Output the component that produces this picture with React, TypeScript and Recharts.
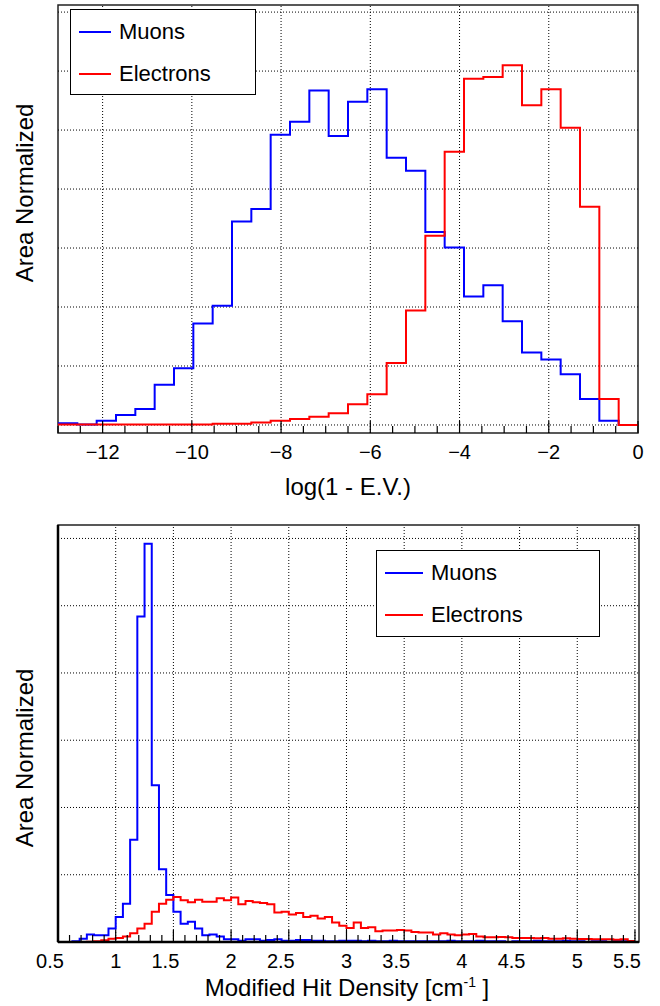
import { LineChart, Line, XAxis, YAxis, ReferenceLine, ReferenceArea } from 'recharts';

// log(1 - E.V.) histogram: 30 bins from -13 to 0
const EV_MIN = -13;
const EV_MAX = 0;
const EV_BIN = 13 / 30;
const evMuons = [0.03, 0.01, 0.07, 0.17, 0.27, 0.68, 0.96, 1.72, 2.02, 3.45, 3.66, 4.92, 5.14, 5.67, 4.9, 5.48, 5.69, 4.53, 4.31, 3.27, 3.01, 2.18, 2.37, 1.76, 1.23, 1.11, 0.86, 0.44, 0.07, 0.0];
const evElectrons = [0.01, 0.01, 0.01, 0.01, 0.01, 0.01, 0.01, 0.01, 0.02, 0.02, 0.04, 0.07, 0.1, 0.14, 0.2, 0.35, 0.52, 1.05, 1.94, 3.21, 4.63, 5.87, 5.9, 6.1, 5.42, 5.69, 5.04, 3.7, 0.44, 0.0];
const evMajorTicks = [-12, -10, -8, -6, -4, -2, 0];
const evGridY = [0, 1, 2, 3, 4, 5, 6, 7];
const EV_Y_DOMAIN: [number, number] = [-0.136, 7.12];

// Modified hit density histogram: 80 bins from 0.5 to 5.5
const HD_MIN = 0.5;
const HD_MAX = 5.535;
const HD_BIN = 0.0625;
const hdMuons = [
  0.0, 0.0, 0.01, 0.05, 0.11, 0.1, 0.1, 0.2, 0.37, 0.57,
  1.52, 4.84, 5.92, 2.33, 1.08, 0.7, 0.45, 0.27, 0.3, 0.2,
  0.1, 0.11, 0.08, 0.04, 0.04, 0.02, 0.04, 0.04, 0.02, 0.03,
  0.04, 0.02, 0.02, 0.03, 0.03, 0.02, 0.02, 0.01, 0.01, 0.02,
  0.02, 0.02, 0.01, 0.02, 0.01, 0.01, 0.02, 0.01, 0.01, 0.01,
  0.01, 0.01, 0.01, 0.01, 0.02, 0.01, 0.01, 0.01, 0.02, 0.01,
  0.01, 0.01, 0.0, 0.01, 0.01, 0.01, 0.02, 0.01, 0.01, 0.01,
  0.02, 0.01, 0.01, 0.0, 0.01, 0.01, 0.0, 0.01, 0.01, 0.0,
];
const hdElectrons = [
  0.0, 0.0, 0.0, 0.0, 0.005, 0.01, 0.025, 0.05, 0.06, 0.08,
  0.13, 0.2, 0.27, 0.45, 0.57, 0.63, 0.67, 0.62, 0.59, 0.63,
  0.6, 0.6, 0.65, 0.62, 0.66, 0.56, 0.61, 0.59, 0.58, 0.56,
  0.44, 0.45, 0.41, 0.43, 0.37, 0.39, 0.35, 0.37, 0.29, 0.24,
  0.21, 0.29, 0.21, 0.22, 0.16, 0.17, 0.17, 0.18, 0.17, 0.15,
  0.14, 0.14, 0.11, 0.13, 0.11, 0.1, 0.11, 0.12, 0.08, 0.07,
  0.07, 0.075, 0.07, 0.06, 0.06, 0.06, 0.055, 0.06, 0.05, 0.05,
  0.055, 0.05, 0.045, 0.045, 0.04, 0.04, 0.04, 0.035, 0.04, 0.015,
];
const hdMajorTicks = [0.5, 1, 1.5, 2, 2.5, 3, 3.5, 4, 4.5, 5, 5.5];
const hdGridY = [1, 2, 3, 4, 5, 6];
const HD_Y_DOMAIN: [number, number] = [0, 6.2];

const FONT = '"Liberation Sans", Arial, Helvetica, sans-serif';
const BLUE = '#0000ff';
const RED = '#ff0000';

function toSteps(x0: number, w: number, mu: number[], el: number[]) {
  const rows = mu.map((m, i) => ({ x: x0 + i * w, mu: m, el: el[i] }));
  rows.push({ x: x0 + mu.length * w, mu: mu[mu.length - 1], el: el[el.length - 1] });
  return rows;
}

function range(start: number, stop: number, step: number) {
  const out: number[] = [];
  for (let v = start; v <= stop + 1e-9; v += step) out.push(Math.round(v * 1000) / 1000);
  return out;
}

const isMajor = (majors: number[], v: number) => majors.some((m) => Math.abs(m - v) < 1e-6);

function XTick(props: any) {
  const { x, y, payload, majors, fmt, shift } = props;
  const major = isMajor(majors, payload.value);
  const dx = shift ? shift(payload.value) : 0;
  return (
    <g>
      <line x1={x} x2={x} y1={y} y2={y - (major ? 12 : 7)} stroke="#000" strokeWidth={1.2} />
      {major && (
        <text x={x + dx} y={y + 26} textAnchor="middle" fontSize={20} fontFamily={FONT} fill="#000">
          {fmt(payload.value)}
        </text>
      )}
    </g>
  );
}

function YTick(props: any) {
  const { x, y, payload, majors } = props;
  const major = isMajor(majors, payload.value);
  return <line x1={x} x2={x + (major ? 12 : 7)} y1={y} y2={y} stroke="#000" strokeWidth={1.2} />;
}

const evData = toSteps(EV_MIN, EV_BIN, evMuons, evElectrons);
const hdData = toSteps(HD_MIN, HD_BIN, hdMuons, hdElectrons);
const evMinorX = range(-13, 0, 0.5);
const hdMinorX = range(0.5, 5.5, 0.1);
const evMinorY = range(0, 7, 0.2);
const hdMinorY = range(0, 6.2, 0.2);

const fmtEv = (v: number) => (v < 0 ? '\u2212' + Math.abs(v) : String(v));
const fmtHd = (v: number) => String(v);
// half-unit labels sit a little left of their ticks in the original
const shiftHd = (v: number) => (Number.isInteger(v) ? 0 : -8);

function Legend({ left, top, width, height, lineLen }: any) {
  const item = (color: string, label: string, cy: number) => (
    <div style={{ position: 'absolute', left: 8, top: cy - 14, height: 28, display: 'flex', alignItems: 'center' }}>
      <div style={{ width: lineLen, height: 2, background: color }} />
      <span style={{ marginLeft: 8, fontSize: 22, fontFamily: FONT, color: '#000' }}>{label}</span>
    </div>
  );
  return (
    <div style={{ position: 'absolute', left, top, width, height, border: '1.5px solid #000', background: '#fff', boxSizing: 'border-box' }}>
      {item(BLUE, 'Muons', height * 0.25)}
      {item(RED, 'Electrons', height * 0.74)}
    </div>
  );
}

const titleStyle = { position: 'absolute' as const, fontFamily: FONT, fontSize: 24, color: '#000', whiteSpace: 'nowrap' as const };

export default function App() {
  return (
    <div style={{ position: 'relative', width: 660, height: 1006, background: '#fff' }}>
      <style>{'body{margin:0}'}</style>

      {/* top panel */}
      <div style={{ position: 'absolute', left: 0, top: 0 }}>
        <LineChart width={660} height={500} data={evData} margin={{ top: 5, right: 22, bottom: 0, left: 58 }}>
          <XAxis
            dataKey="x"
            type="number"
            domain={[EV_MIN, EV_MAX]}
            allowDataOverflow
            ticks={evMinorX}
            interval={0}
            height={67}
            tickSize={0}
            tickMargin={0}
            axisLine={false}
            tickLine={false}
            tick={<XTick majors={evMajorTicks} fmt={fmtEv} />}
          />
          <YAxis
            type="number"
            domain={EV_Y_DOMAIN}
            allowDataOverflow
            ticks={evMinorY}
            interval={0}
            width={0}
            tickSize={0}
            tickMargin={0}
            axisLine={false}
            tickLine={false}
            tick={<YTick majors={evGridY} />}
          />
          {evMajorTicks.slice(0, -1).map((v) => (
            <ReferenceLine key={'gx' + v} x={v} stroke="#000" strokeDasharray="1 2" strokeWidth={1} />
          ))}
          {evGridY.map((v) => (
            <ReferenceLine key={'gy' + v} y={v} stroke="#000" strokeDasharray="1 2" strokeWidth={1} />
          ))}
          <ReferenceArea x1={EV_MIN} x2={EV_MAX} y1={EV_Y_DOMAIN[0]} y2={EV_Y_DOMAIN[1]} fill="none" stroke="#222" strokeWidth={1.5} fillOpacity={0} />
          <Line type="stepAfter" dataKey="mu" stroke={BLUE} strokeWidth={2} dot={false} isAnimationActive={false} />
          <Line type="stepAfter" dataKey="el" stroke={RED} strokeWidth={2} dot={false} isAnimationActive={false} />
        </LineChart>
      </div>
      <div style={{ ...titleStyle, left: 348, top: 487, transform: 'translate(-50%, -50%)' }}>log(1 - E.V.)</div>
      <div style={{ ...titleStyle, left: 25, top: 193, transform: 'translate(-50%, -50%) rotate(-90deg)' }}>Area Normalized</div>
      <Legend left={70} top={9} width={186} height={86} lineLen={32} />

      {/* bottom panel */}
      <div style={{ position: 'absolute', left: 0, top: 500 }}>
        <LineChart width={660} height={506} data={hdData} margin={{ top: 25, right: 21, bottom: 0, left: 58 }}>
          <XAxis
            dataKey="x"
            type="number"
            domain={[HD_MIN, HD_MAX]}
            allowDataOverflow
            ticks={hdMinorX}
            interval={0}
            height={64}
            tickSize={0}
            tickMargin={0}
            axisLine={false}
            tickLine={false}
            tick={<XTick majors={hdMajorTicks} fmt={fmtHd} shift={shiftHd} />}
          />
          <YAxis
            type="number"
            domain={HD_Y_DOMAIN}
            allowDataOverflow
            ticks={hdMinorY}
            interval={0}
            width={0}
            tickSize={0}
            tickMargin={0}
            axisLine={false}
            tickLine={false}
            tick={<YTick majors={[0, ...hdGridY]} />}
          />
          {hdMajorTicks.slice(1).map((v) => (
            <ReferenceLine key={'gx' + v} x={v} stroke="#000" strokeDasharray="1 2" strokeWidth={1} />
          ))}
          {hdGridY.map((v) => (
            <ReferenceLine key={'gy' + v} y={v} stroke="#000" strokeDasharray="1 2" strokeWidth={1} />
          ))}
          <ReferenceArea x1={HD_MIN} x2={HD_MAX} y1={HD_Y_DOMAIN[0]} y2={HD_Y_DOMAIN[1]} fill="none" stroke="#222" strokeWidth={1.5} fillOpacity={0} />
          <ReferenceLine x={HD_MIN} stroke="#000" strokeWidth={2.5} />
          <Line type="stepAfter" dataKey="mu" stroke={BLUE} strokeWidth={2} dot={false} isAnimationActive={false} />
          <Line type="stepAfter" dataKey="el" stroke={RED} strokeWidth={2} dot={false} isAnimationActive={false} />
          <ReferenceLine y={0} stroke="#000" strokeWidth={2.5} />
        </LineChart>
      </div>
      <div style={{ ...titleStyle, left: 347, top: 988, transform: 'translate(-50%, -50%)' }}>
        Modified Hit Density [cm<sup style={{ fontSize: 14 }}>-1</sup> ]
      </div>
      <div style={{ ...titleStyle, left: 25, top: 758, transform: 'translate(-50%, -50%) rotate(-90deg)' }}>Area Normalized</div>
      <Legend left={376} top={550} width={224} height={87} lineLen={38} />
    </div>
  );
}
